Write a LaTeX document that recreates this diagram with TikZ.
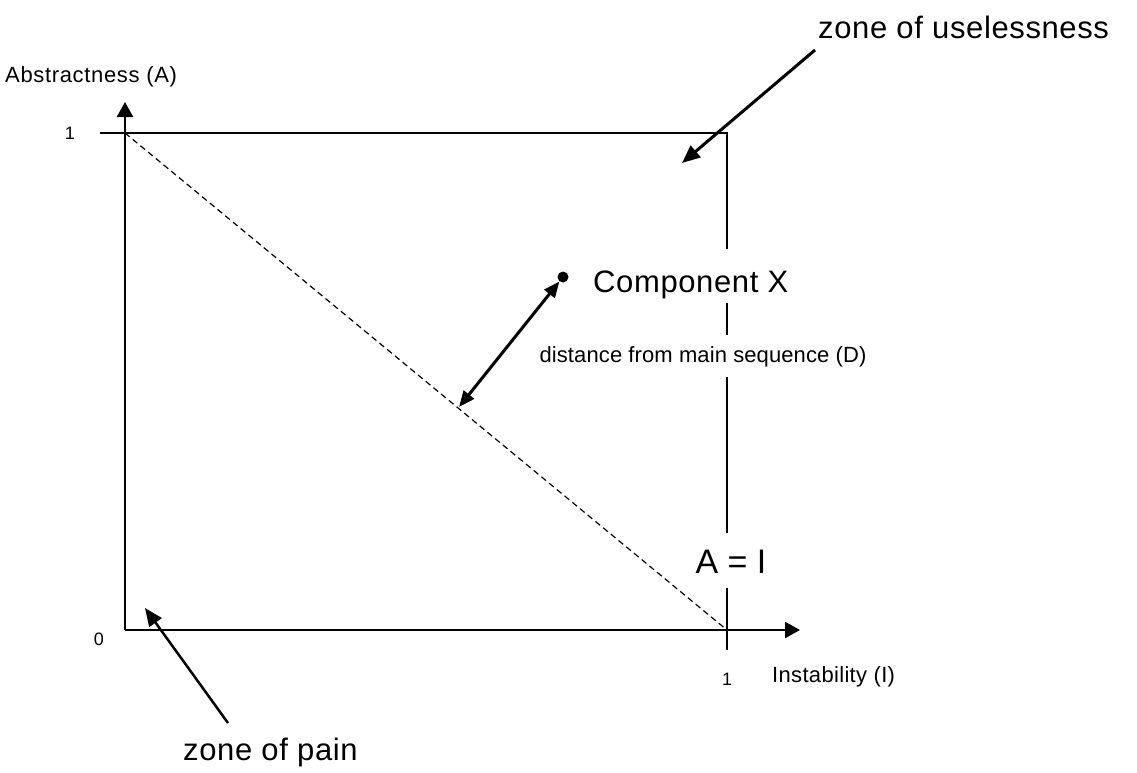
\documentclass[tikz,border=0pt]{standalone}
\usepackage{fontspec}
\setmainfont{Liberation Sans}
\usetikzlibrary{arrows.meta}
\begin{document}
\begin{tikzpicture}[x=1pt,y=-1pt,
  axisline/.style={line width=2.5pt,-{Triangle[length=15pt,width=16pt]}},
  thinline/.style={line width=1.5pt},
  dashline/.style={line width=1.2pt,dash pattern=on 6pt off 4pt},
  pointer/.style={line width=3pt,-{Triangle[length=18pt,width=15pt]}},
  dblpointer/.style={line width=3pt,{Triangle[length=16pt,width=13pt]}-{Triangle[length=16pt,width=13pt]}},
  smalltxt/.style={font=\fontsize{18}{20}\selectfont,inner sep=0pt},
  midtxt/.style={font=\fontsize{22}{24}\selectfont\addfontfeature{LetterSpace=3},inner sep=0pt},
  disttxt/.style={font=\fontsize{22}{24}\selectfont\addfontfeature{LetterSpace=0.5},inner sep=0pt},
  bigtxt/.style={font=\fontsize{31}{34}\selectfont\addfontfeature{LetterSpace=2},inner sep=0pt},
  aitxt/.style={font=\fontsize{34}{36}\selectfont,inner sep=0pt},
  cover/.style={fill=white},
]
\fill[white] (0,0) rectangle (1137,772);
\useasboundingbox (0,0) rectangle (1137,772);

% frame coordinates
\coordinate (O) at (125,630);
\coordinate (Ytip) at (125,102);
\coordinate (Xtip) at (800,630);
\coordinate (TL) at (100,133);
\coordinate (A1) at (125,133);
\coordinate (TR) at (727,133);
\coordinate (I1) at (727,630);
\coordinate (Tick) at (727,650);

\draw[thinline] (TL) -- (TR) -- (Tick);
\draw[dashline] (A1) -- (I1);
\draw[axisline] (O) -- (Ytip);
\draw[axisline] (O) -- (Xtip);

% labels covering the A = I line
\node[bigtxt, cover, anchor=base west, text height=43pt, text depth=11pt] (cx) at (593,292) {Component X};
\node[disttxt, cover, anchor=base, text height=27pt, text depth=15pt] (dist) at (703,362) {distance from main sequence (D)};
\node[aitxt, cover, anchor=base, text height=40pt, text depth=15pt] (ai) at (731,573) {A = I};

% component and distance
\node[circle, fill=black, inner sep=0pt, minimum size=11pt] (dot) at (563,277) {};
\coordinate (dfoot) at (459,407);
\draw[dblpointer] (dfoot) -- (dot);

% axis labels
\node[midtxt, anchor=base west] (ylab) at (5,82) {Abstractness (A)};
\node[smalltxt] (one) at (70,133) {1};
\node[smalltxt] (zero) at (99,639) {0};
\node[smalltxt] (oneI) at (727,679) {1};
\node[midtxt, anchor=base west, font=\fontsize{22}{24}\selectfont\addfontfeature{LetterSpace=1.5}] (xlab) at (772,682) {Instability (I)};

% zones
\node[bigtxt, anchor=base west] (useless) at (818,38) {zone of uselessness};
\coordinate (uStart) at (815,50);
\coordinate (uTip) at (682,163);
\draw[pointer] (uStart) -- (uTip);

\node[bigtxt, anchor=base west] (pain) at (183,760) {zone of pain};
\coordinate (pStart) at (228,723);
\coordinate (pTip) at (145,608);
\draw[pointer, line width=2.5pt] (pStart) -- (pTip);
\end{tikzpicture}
\end{document}
